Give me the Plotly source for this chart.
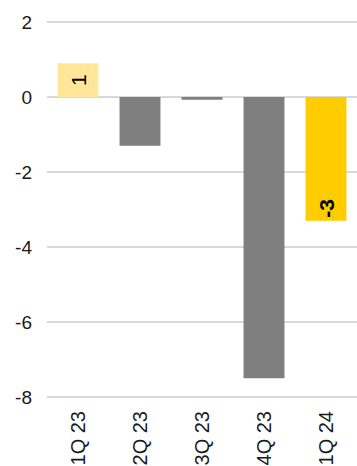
import plotly.graph_objects as go

# Quarterly values
quarters = ["1Q 23", "2Q 23", "3Q 23", "4Q 23", "1Q 24"]
values = [0.9, -1.3, -0.07, -7.5, -3.3]
bar_colors = ["#FFE699", "#7F7F7F", "#7F7F7F", "#7F7F7F", "#FFCC00"]
# which bars carry a value label, and how it is placed/weighted
label_anchor = ["middle", None, None, None, "end"]
label_bold = [False, False, False, False, True]

y_ticks = [2, 0, -2, -4, -6, -8]

FONT = "Liberation Sans, Arial, sans-serif"
BAR_WIDTH = 0.66

fig = go.Figure()

# group bars by how their inside label is anchored (or no label at all)
for anchor in ["middle", "end", None]:
    idx = [i for i, a in enumerate(label_anchor) if a == anchor]
    if not idx:
        continue
    texts = []
    for i in idx:
        if anchor is None:
            texts.append("")
        else:
            t = f"{round(values[i])}"
            texts.append(f"<b>{t}</b>" if label_bold[i] else t)
    fig.add_trace(go.Bar(
        x=[quarters[i] for i in idx],
        y=[values[i] for i in idx],
        marker=dict(color=[bar_colors[i] for i in idx], line=dict(width=0)),
        width=BAR_WIDTH,
        text=texts,
        textposition="inside",
        insidetextanchor=anchor if anchor else "middle",
        textangle=-90,
        textfont=dict(family=FONT, size=21, color="#000000"),
        constraintext="none",
        cliponaxis=False,
        hoverinfo="x+y",
        showlegend=False,
    ))

fig.update_layout(
    width=357,
    height=466,
    margin=dict(l=47, r=0, t=21, b=68, autoexpand=False),
    paper_bgcolor="white",
    plot_bgcolor="white",
    barmode="overlay",
    font=dict(family=FONT, color="#1a1a1a"),
    xaxis=dict(
        categoryorder="array",
        categoryarray=quarters,
        tickangle=-90,
        tickfont=dict(family=FONT, size=20, color="#1a1a1a"),
        showgrid=False,
        showline=False,
        ticks="",
        ticklabelstandoff=8,
        automargin=False,
    ),
    yaxis=dict(
        range=[-8.03, 2.03],
        tickvals=y_ticks,
        ticktext=[str(v) for v in y_ticks],
        tickfont=dict(family=FONT, size=19, color="#1a1a1a"),
        showgrid=True,
        gridcolor="#d9d9d9",
        gridwidth=2,
        zeroline=True,
        zerolinecolor="#d9d9d9",
        zerolinewidth=2,
        showline=False,
        ticks="",
        ticklabelstandoff=14,
        automargin=False,
    ),
)

fig.write_html("out.html")
